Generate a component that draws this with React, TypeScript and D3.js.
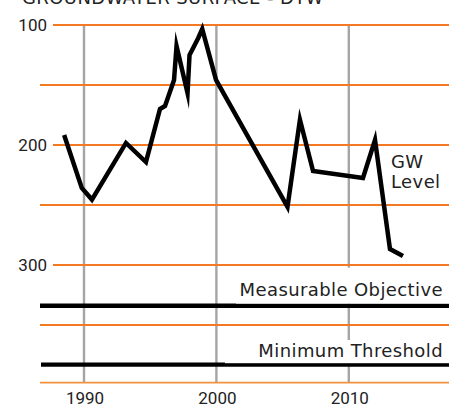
import React from "react";
import * as d3 from "d3";

const title = "GROUNDWATER SURFACE - DTW";
const years = [1988.5, 1989.83, 1990.6, 1993.17, 1994.68, 1995.74, 1996.12, 1996.8, 1996.99, 1997.82, 1997.97, 1998.63, 1998.93, 1999.97, 2005.37, 2006.31, 2007.3, 2011.07, 2011.98, 2013.11, 2014.09];
const levels = [191.7, 235.8, 245.5, 198.3, 214.2, 170, 167.5, 145.8, 117.5, 156.7, 125, 110.8, 103.3, 145.8, 251.5, 179, 221.7, 227.5, 195.8, 286.7, 292.5];
const yGrid = [100, 150, 200, 250, 300, 350];
const yTickLabels = [100, 200, 300];
const xTicks = [1990, 2000, 2010];
const measurableObjective = 334;
const minimumThreshold = 383;
const axisBottom = 398;

const W = 449;
const H = 406;
const ORANGE = "#F37A22";
const GREY = "#A5A5A8";
const TEXT_FONT = "'DejaVu Sans', sans-serif";
const NUM_FONT = "Roboto, sans-serif";

export default function App() {
  const x = d3.scaleLinear().domain([1990, 2010]).range([84, 348.8]);
  const y = d3.scaleLinear().domain([100, 300]).range([25, 265]);
  const pts = years.map((yr, i) => [yr, levels[i]] as [number, number]);
  const line = d3.line<[number, number]>().x((d) => x(d[0])).y((d) => y(d[1]));

  return (
    <svg width={W} height={H} style={{ position: "absolute", left: 0, top: 0, background: "#fff" }}>
      <text x={22} y={3.5} fontFamily={TEXT_FONT} fontSize={18} letterSpacing={0.4} fill="#222">{title}</text>
      {xTicks.map((t) => (
        <line key={"g" + t} x1={x(t)} x2={x(t)} y1={y(100)} y2={y(axisBottom)} stroke={GREY} strokeWidth={2.4} />
      ))}
      {yGrid.map((v) => (
        <line key={"o" + v} x1={yTickLabels.includes(v) ? 53 : 40} x2={W} y1={y(v)} y2={y(v)} stroke={ORANGE} strokeWidth={2} />
      ))}
      <line x1={40} x2={W} y1={y(axisBottom)} y2={y(axisBottom)} stroke="#F4913F" strokeWidth={1.6} />
      {yTickLabels.map((v) => (
        <text key={"yl" + v} x={47} y={y(v) + 5.5} textAnchor="end" fontFamily={NUM_FONT} fontSize={17} fill="#222">{v}</text>
      ))}
      {xTicks.map((t) => (
        <text key={"xl" + t} x={x(t) + 1} y={404} textAnchor="middle" fontFamily={NUM_FONT} fontSize={17} fill="#222">{t}</text>
      ))}
      <line x1={40} x2={W} y1={y(measurableObjective)} y2={y(measurableObjective)} stroke="#000" strokeWidth={4.4} />
      <line x1={41} x2={W} y1={y(minimumThreshold)} y2={y(minimumThreshold)} stroke="#000" strokeWidth={4.4} />
      <rect x={236} y={267.7} width={W - 236} height={y(measurableObjective) - 2.2 - 267.7} fill="#fff" />
      <rect x={225} y={340} width={W - 225} height={y(minimumThreshold) - 2.2 - 340 + 0.8} fill="#fff" />
      <text x={443} y={295.7} textAnchor="end" fontFamily={TEXT_FONT} fontSize={18} letterSpacing={0.4} fill="#222">Measurable Objective</text>
      <text x={443} y={356.7} textAnchor="end" fontFamily={TEXT_FONT} fontSize={18} letterSpacing={0.4} fill="#222">Minimum Threshold</text>
      <path d={line(pts) || ""} fill="none" stroke="#000" strokeWidth={4.5} strokeLinejoin="miter" strokeMiterlimit={10} />
      <text x={391} y={167.7} fontFamily={TEXT_FONT} fontSize={18} letterSpacing={0.4} fill="#222">GW</text>
      <text x={391} y={188.3} fontFamily={TEXT_FONT} fontSize={18} letterSpacing={0.4} fill="#222">Level</text>
    </svg>
  );
}
